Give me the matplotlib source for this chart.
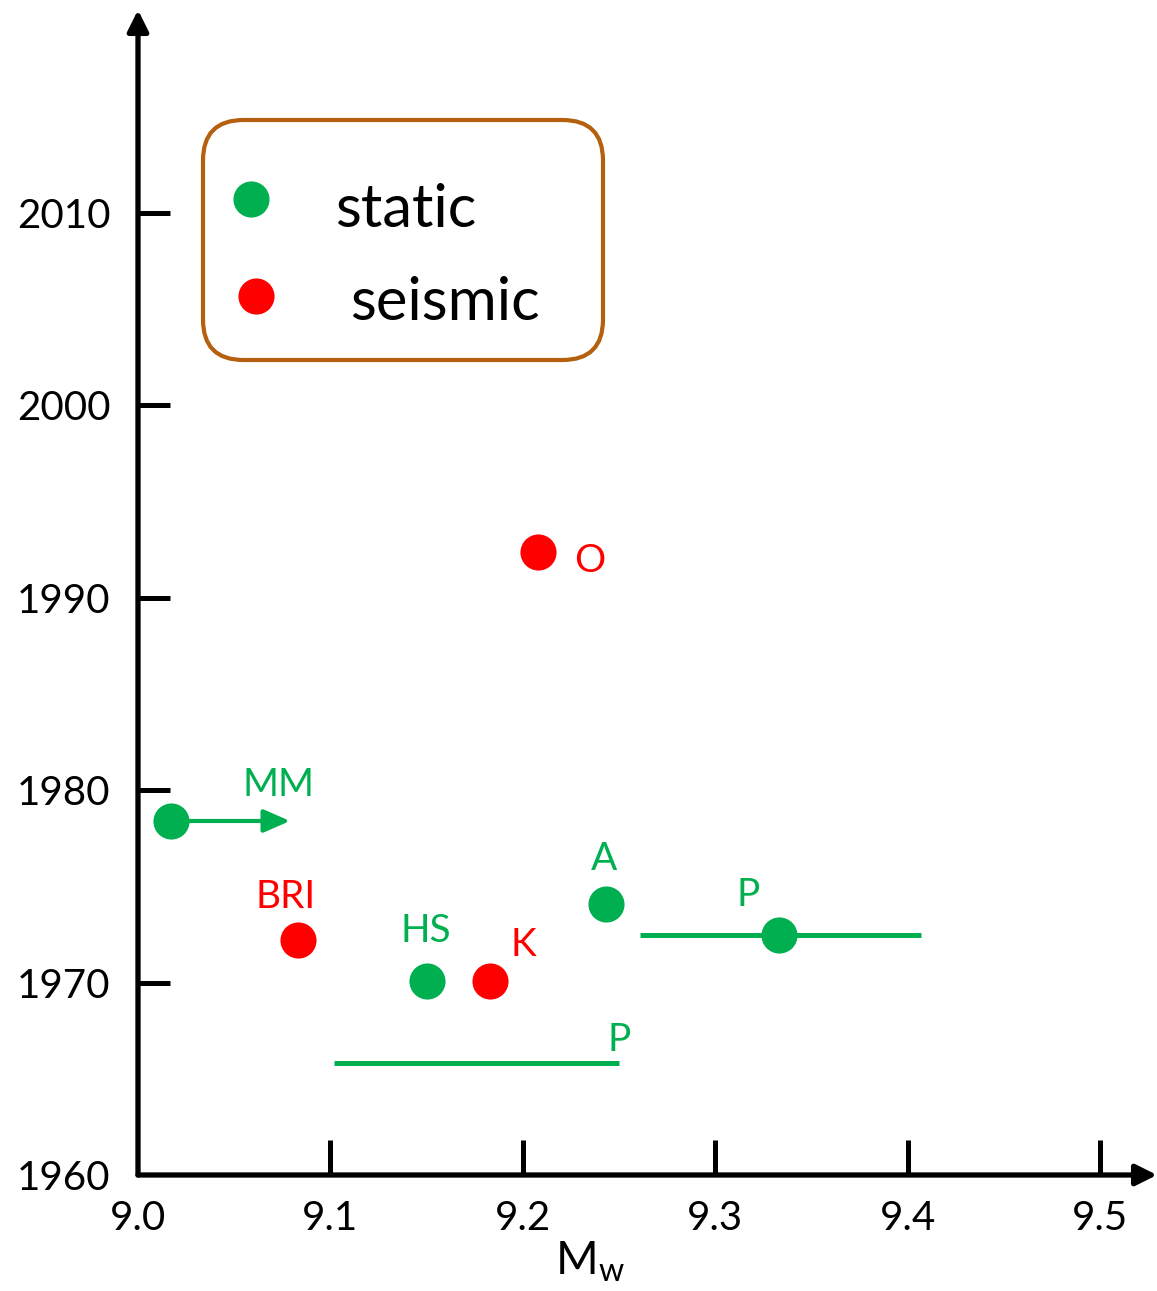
"""
Magnitude estimates (Mw) against publication year, static vs seismic.
"""

import matplotlib.pyplot as plt
from matplotlib.patches import FancyBboxPatch

# ----------------------------------------------------------
# Data
# ----------------------------------------------------------

static_names = ["MM", "HS", "A", "P"]
static_mw = [9.017, 9.150, 9.243, 9.333]
static_year = [1978.4, 1970.1, 1974.1, 1972.5]

seismic_names = ["BRI", "K", "O"]
seismic_mw = [9.083, 9.183, 9.208]
seismic_year = [1972.2, 1970.1, 1992.4]

# P: range of estimates around the point, plus a range with no central value
p_range = [9.261, 9.407]
p_range_year = 1972.5
p2_range = [9.102, 9.250]
p2_year = 1965.8

# MM: lower bound, drawn as an arrow to the right
mm_arrow_to = 9.079

x_ticks = [9.0, 9.1, 9.2, 9.3, 9.4, 9.5]
y_ticks = [1960, 1970, 1980, 1990, 2000, 2010]

GREEN = "#00B050"
RED = "#FF0000"
BROWN = "#B5600E"
ORANGE = "#F0820F"

plt.rcParams["font.family"] = ["Lato", "DejaVu Sans"]

W, H = 1157, 1291
fig = plt.figure(figsize=(W / 100, H / 100), dpi=100)


def px(x, y):
    """Pixel position (from top-left) to figure fraction."""
    return x / W, 1 - y / H


ax = fig.add_axes([138 / W, (H - 1175) / H, (W - 138) / W, (1175 - 10) / H])
ax.set_xlim(9.0, 9.0 + (W - 138) / 1924)
ax.set_ylim(1960, 1960 + 1165 / 19.24)

for side in ["top", "right", "left", "bottom"]:
    ax.spines[side].set_visible(False)

# axes drawn as arrows
for xy in [(1, 0), (0, 1)]:
    ax.annotate(
        "",
        xy=xy,
        xytext=(0, 0),
        xycoords="axes fraction",
        arrowprops=dict(
            arrowstyle="-|>,head_length=0.9,head_width=0.45",
            lw=3.8,
            color="black",
            shrinkA=0,
            shrinkB=0,
            mutation_scale=14,
        ),
    )

ax.set_xticks(x_ticks)
ax.set_xticklabels([f"{t:.1f}" for t in x_ticks])
ax.set_yticks(y_ticks)
ax.tick_params(
    axis="x", direction="in", length=25, width=3.6,
    labelsize=29, pad=18, color="black"
)
ax.tick_params(
    axis="y", direction="in", length=23, width=3.6,
    labelsize=29, pad=20, color="black"
)
ax.yaxis.get_major_ticks()[1].tick1line.set_color(ORANGE)
ax.xaxis.get_major_ticks()[0].tick1line.set_visible(False)
ax.yaxis.get_major_ticks()[0].tick1line.set_visible(False)

ax.set_xlabel("M$_\\mathregular{w}$", fontsize=33)
ax.xaxis.set_label_coords((590 - 138) / (W - 138), -(1240 - 1175) / 1165)

# ranges
ax.plot(p_range, [p_range_year] * 2, color=GREEN, lw=3.6, solid_capstyle="butt")
ax.plot(p2_range, [p2_year] * 2, color=GREEN, lw=3.6, solid_capstyle="butt")

ax.annotate(
    "",
    xy=(mm_arrow_to, static_year[0]),
    xytext=(static_mw[0], static_year[0]),
    arrowprops=dict(
        arrowstyle="-|>,head_length=0.8,head_width=0.35",
        lw=3,
        color=GREEN,
        shrinkA=0,
        shrinkB=0,
        mutation_scale=20,
    ),
)

ax.plot(static_mw, static_year, "o", color=GREEN, ms=26, mec="none", zorder=5)
ax.plot(seismic_mw, seismic_year, "o", color=RED, ms=26, mec="none", zorder=5)

# point labels (offsets in pixels)
static_offsets = [(108, 36), (-1, 50), (-1, 45), (-31, 40)]
seismic_offsets = [(-12, 43), (33, 36), (52, -9)]

for name, x, y, off in zip(static_names, static_mw, static_year, static_offsets):
    ax.annotate(name, (x, y), xytext=(off[0] * 0.72, off[1] * 0.72),
                textcoords="offset points", ha="center", va="center",
                color=GREEN, fontsize=28)
for name, x, y, off in zip(seismic_names, seismic_mw, seismic_year, seismic_offsets):
    ax.annotate(name, (x, y), xytext=(off[0] * 0.72, off[1] * 0.72),
                textcoords="offset points", ha="center", va="center",
                color=RED, fontsize=28)
ax.annotate("P", (p2_range[1], p2_year), xytext=(0, 17),
            textcoords="offset points", ha="center", va="center",
            color=GREEN, fontsize=28)

# legend box
x0, y0 = px(203, 360)
x1, y1 = px(603, 120)
box = FancyBboxPatch(
    (x0, y0), x1 - x0, y1 - y0,
    boxstyle="round,pad=0,rounding_size=0.035",
    transform=fig.transFigure,
    facecolor="white",
    edgecolor=BROWN,
    lw=3,
    mutation_aspect=W / H,
)
fig.patches.append(box)

fig.lines.append(plt.Line2D(*[[v] for v in px(251, 199)], marker="o", ms=26,
                            color=GREEN, mec="none", transform=fig.transFigure))
fig.lines.append(plt.Line2D(*[[v] for v in px(256, 296)], marker="o", ms=26,
                            color=RED, mec="none", transform=fig.transFigure))
fig.text(*px(335, 210), "static", fontsize=43, ha="left", va="center")
fig.text(*px(350, 303), "seismic", fontsize=43, ha="left", va="center")

fig.savefig("out.png", dpi=100, facecolor="white")
